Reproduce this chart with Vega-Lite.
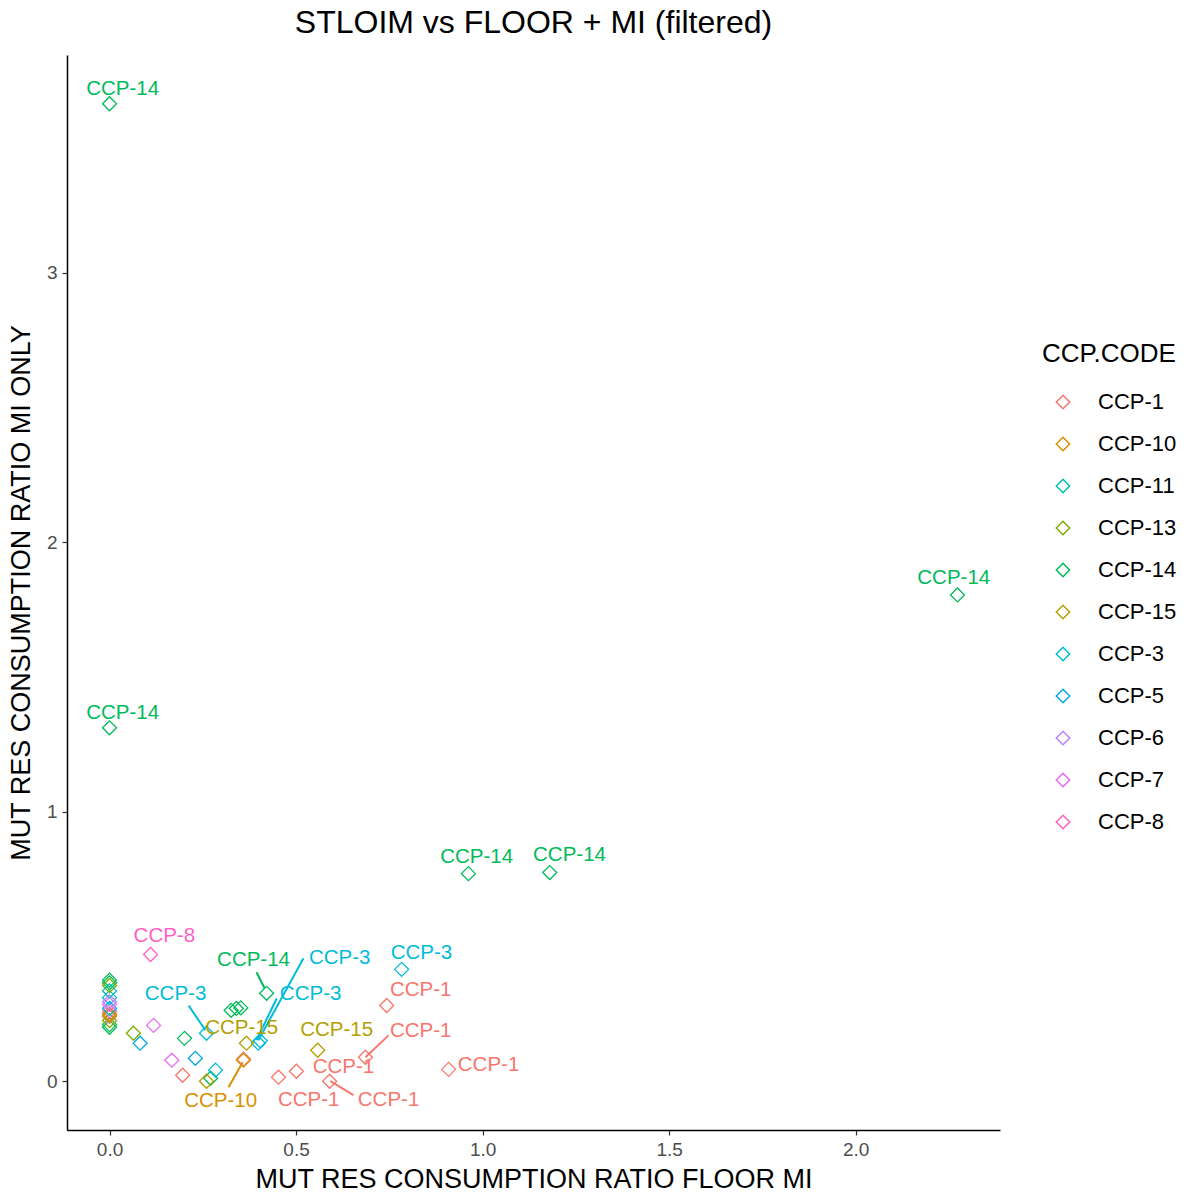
{
  "$schema": "https://vega.github.io/schema/vega-lite/v6.json",
  "autosize": "none",
  "width": 933,
  "height": 1075,
  "padding": {"left": 67, "top": 55, "right": 190, "bottom": 64},
  "background": "white",
  "title": {"text": "STLOIM vs FLOOR + MI (filtered)", "fontSize": 32, "font": "Liberation Sans", "fontWeight": "normal", "color": "black", "anchor": "middle", "offset": 15},
  "config": {
    "view": {"stroke": null},
    "axis": {"grid": false, "domainColor": "black", "domainWidth": 1.5, "tickColor": "#333333", "tickSize": 5, "tickWidth": 1.2, "labelFont": "Liberation Sans", "labelFontSize": 19, "labelColor": "#4D4D4D", "titleFont": "Liberation Sans", "titleFontSize": 27, "titleFontWeight": "normal", "titleColor": "black", "labelPadding": 5},
    "legend": {"titleFont": "Liberation Sans", "labelFont": "Liberation Sans"}
  },
  "resolve": {"legend": {"color": "independent"}},
  "datasets": {
    "points": [
      {"ccp": "CCP-14", "x": 0, "y": 3.626},
      {"ccp": "CCP-14", "x": 0, "y": 1.311},
      {"ccp": "CCP-14", "x": 2.273, "y": 1.804},
      {"ccp": "CCP-14", "x": 0.962, "y": 0.770},
      {"ccp": "CCP-14", "x": 1.180, "y": 0.774},
      {"ccp": "CCP-14", "x": 0.421, "y": 0.326},
      {"ccp": "CCP-14", "x": 0.326, "y": 0.263},
      {"ccp": "CCP-14", "x": 0.340, "y": 0.270},
      {"ccp": "CCP-14", "x": 0.352, "y": 0.272},
      {"ccp": "CCP-14", "x": 0.201, "y": 0.159},
      {"ccp": "CCP-14", "x": 0.271, "y": 0.011},
      {"ccp": "CCP-14", "x": 0, "y": 0.375},
      {"ccp": "CCP-14", "x": 0, "y": 0.365},
      {"ccp": "CCP-14", "x": 0, "y": 0.21},
      {"ccp": "CCP-14", "x": 0, "y": 0.20},
      {"ccp": "CCP-8", "x": 0.110, "y": 0.470},
      {"ccp": "CCP-8", "x": 0, "y": 0.26},
      {"ccp": "CCP-3", "x": 0.783, "y": 0.415},
      {"ccp": "CCP-3", "x": 0.399, "y": 0.141},
      {"ccp": "CCP-3", "x": 0.404, "y": 0.150},
      {"ccp": "CCP-3", "x": 0.260, "y": 0.178},
      {"ccp": "CCP-3", "x": 0.284, "y": 0.041},
      {"ccp": "CCP-3", "x": 0, "y": 0.31},
      {"ccp": "CCP-1", "x": 0.743, "y": 0.281},
      {"ccp": "CCP-1", "x": 0.686, "y": 0.089},
      {"ccp": "CCP-1", "x": 0.909, "y": 0.044},
      {"ccp": "CCP-1", "x": 0.590, "y": 0.0},
      {"ccp": "CCP-1", "x": 0.453, "y": 0.015},
      {"ccp": "CCP-1", "x": 0.501, "y": 0.037},
      {"ccp": "CCP-1", "x": 0.196, "y": 0.022},
      {"ccp": "CCP-1", "x": 0.359, "y": 0.082},
      {"ccp": "CCP-1", "x": 0, "y": 0.24},
      {"ccp": "CCP-15", "x": 0.558, "y": 0.115},
      {"ccp": "CCP-15", "x": 0.367, "y": 0.141},
      {"ccp": "CCP-15", "x": 0.260, "y": 0.0},
      {"ccp": "CCP-15", "x": 0, "y": 0.245},
      {"ccp": "CCP-13", "x": 0.064, "y": 0.178},
      {"ccp": "CCP-13", "x": 0, "y": 0.355},
      {"ccp": "CCP-13", "x": 0, "y": 0.225},
      {"ccp": "CCP-10", "x": 0.359, "y": 0.078},
      {"ccp": "CCP-10", "x": 0, "y": 0.25},
      {"ccp": "CCP-5", "x": 0.082, "y": 0.141},
      {"ccp": "CCP-5", "x": 0.230, "y": 0.085},
      {"ccp": "CCP-5", "x": 0, "y": 0.27},
      {"ccp": "CCP-7", "x": 0.118, "y": 0.207},
      {"ccp": "CCP-7", "x": 0.167, "y": 0.078},
      {"ccp": "CCP-7", "x": 0, "y": 0.285},
      {"ccp": "CCP-6", "x": 0, "y": 0.295},
      {"ccp": "CCP-11", "x": 0, "y": 0.335}
    ],
    "labels": [
      {"ccp": "CCP-14", "lx": 0.035, "ly": 3.681},
      {"ccp": "CCP-14", "lx": 0.035, "ly": 1.367},
      {"ccp": "CCP-14", "lx": 2.263, "ly": 1.867},
      {"ccp": "CCP-14", "lx": 0.984, "ly": 0.830},
      {"ccp": "CCP-14", "lx": 1.233, "ly": 0.841},
      {"ccp": "CCP-8", "lx": 0.147, "ly": 0.537},
      {"ccp": "CCP-3", "lx": 0.836, "ly": 0.474},
      {"ccp": "CCP-1", "lx": 0.834, "ly": 0.337},
      {"ccp": "CCP-1", "lx": 0.834, "ly": 0.185},
      {"ccp": "CCP-15", "lx": 0.609, "ly": 0.189},
      {"ccp": "CCP-1", "lx": 1.016, "ly": 0.059},
      {"ccp": "CCP-1", "lx": 0.748, "ly": -0.070},
      {"ccp": "CCP-1", "lx": 0.534, "ly": -0.070},
      {"ccp": "CCP-1", "lx": 0.627, "ly": 0.052},
      {"ccp": "CCP-14", "lx": 0.386, "ly": 0.448},
      {"ccp": "CCP-3", "lx": 0.617, "ly": 0.456},
      {"ccp": "CCP-3", "lx": 0.539, "ly": 0.322},
      {"ccp": "CCP-3", "lx": 0.177, "ly": 0.322},
      {"ccp": "CCP-15", "lx": 0.354, "ly": 0.196},
      {"ccp": "CCP-10", "lx": 0.298, "ly": -0.074}
    ],
    "segments": [
      {"ccp": "CCP-1", "x": 0.686, "y": 0.089, "x2": 0.748, "y2": 0.170},
      {"ccp": "CCP-1", "x": 0.592, "y": 0.0, "x2": 0.654, "y2": -0.052},
      {"ccp": "CCP-14", "x": 0.416, "y": 0.344, "x2": 0.394, "y2": 0.404},
      {"ccp": "CCP-3", "x": 0.399, "y": 0.152, "x2": 0.520, "y2": 0.456},
      {"ccp": "CCP-3", "x": 0.394, "y": 0.152, "x2": 0.448, "y2": 0.307},
      {"ccp": "CCP-3", "x": 0.257, "y": 0.189, "x2": 0.212, "y2": 0.281},
      {"ccp": "CCP-10", "x": 0.357, "y": 0.070, "x2": 0.319, "y2": -0.022}
    ]
  },
  "layer": [
    {
      "data": {"name": "segments"},
      "mark": {"type": "rule", "strokeWidth": 2},
      "encoding": {
        "x": {"field": "x", "type": "quantitative"},
        "y": {"field": "y", "type": "quantitative"},
        "x2": {"field": "x2"},
        "y2": {"field": "y2"},
        "color": {"field": "ccp", "type": "nominal", "legend": null}
      }
    },
    {
      "data": {"name": "points"},
      "mark": {"type": "point", "shape": "diamond", "filled": false, "size": 196, "strokeWidth": 1.3, "opacity": 1},
      "encoding": {
        "x": {"field": "x", "type": "quantitative", "title": "MUT RES CONSUMPTION RATIO FLOOR MI",
              "scale": {"domain": [-0.114, 2.387], "nice": false, "zero": false},
              "axis": {"values": [0, 0.5, 1, 1.5, 2], "format": ".1f", "titlePadding": 7}},
        "y": {"field": "y", "type": "quantitative", "title": "MUT RES CONSUMPTION RATIO MI ONLY",
              "scale": {"domain": [-0.181, 3.807], "nice": false, "zero": false},
              "axis": {"values": [0, 1, 2, 3], "format": "d", "titlePadding": 11}},
        "color": {"field": "ccp", "type": "nominal", "title": "CCP.CODE",
          "scale": {
            "domain": ["CCP-1", "CCP-10", "CCP-11", "CCP-13", "CCP-14", "CCP-15", "CCP-3", "CCP-5", "CCP-6", "CCP-7", "CCP-8"],
            "range": ["#F8766D", "#D89000", "#00BFAF", "#7CAE00", "#00BA5A", "#B3A000", "#00BCD8", "#00A9E6", "#B983FF", "#E76BF3", "#FF61C3"]
          },
          "legend": {"orient": "none", "legendX": 975, "legendY": 286, "symbolType": "diamond", "symbolSize": 180, "symbolStrokeWidth": 1.5, "symbolFillColor": "transparent", "titleFontSize": 26, "titleFontWeight": "normal", "titleColor": "black", "labelFontSize": 22, "labelColor": "black", "rowPadding": 20, "titlePadding": 24, "symbolOffset": 10, "labelOffset": 24, "padding": 0}
        }
      }
    },
    {
      "data": {"name": "labels"},
      "mark": {"type": "text", "fontSize": 20.5, "font": "Liberation Sans", "align": "center", "baseline": "middle"},
      "encoding": {
        "x": {"field": "lx", "type": "quantitative"},
        "y": {"field": "ly", "type": "quantitative"},
        "text": {"field": "ccp"},
        "color": {"field": "ccp", "type": "nominal", "legend": null}
      }
    }
  ]
}
